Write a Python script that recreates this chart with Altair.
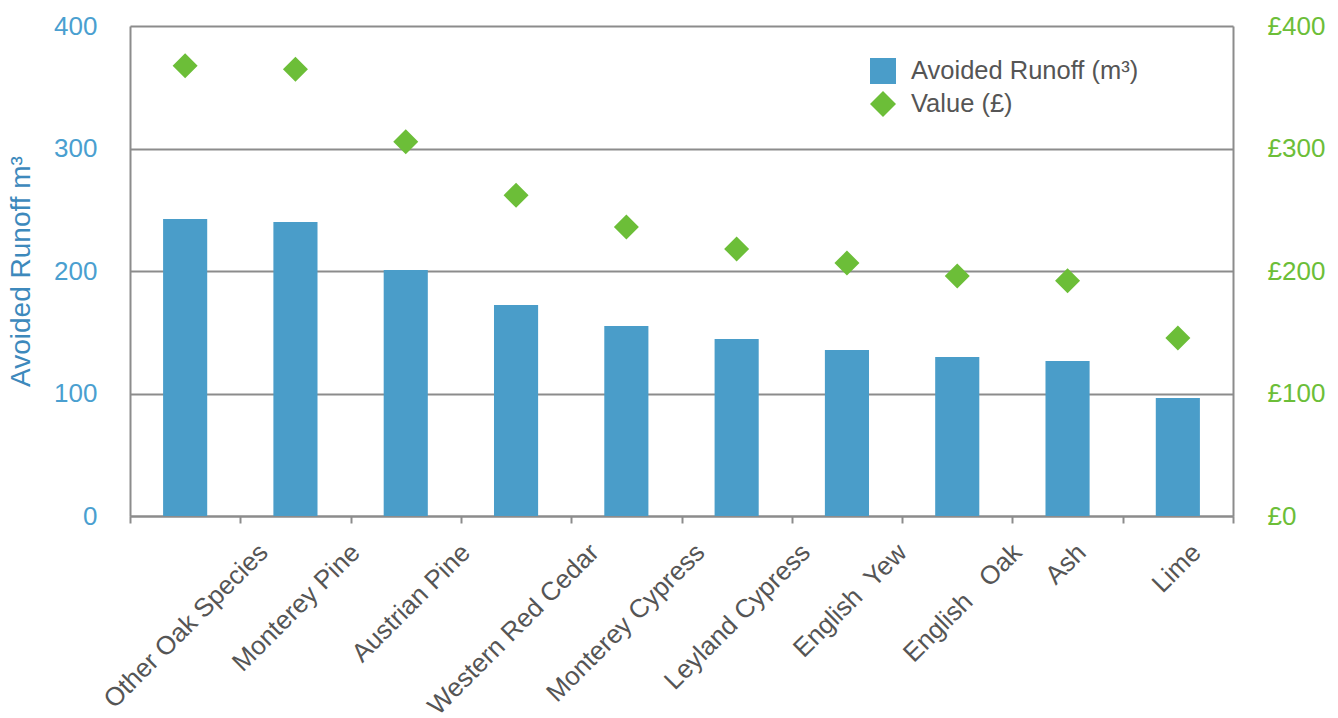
import altair as alt
import pandas as pd

NBSP = "\u00a0"

# Tree species, ordered by avoided runoff
species = [
    "Other Oak Species",
    "Monterey Pine",
    "Austrian Pine",
    "Western Red Cedar",
    "Monterey Cypress",
    "Leyland Cypress",
    f"English{NBSP}{NBSP}Yew",
    f"English{NBSP}{NBSP}{NBSP}Oak",
    "Ash",
    "Lime",
]
# Avoided runoff per species (m³)
runoff_m3 = [242.4, 240.0, 200.8, 172.2, 155.1, 144.5, 135.5, 129.8, 126.5, 96.4]
# Monetary value of the avoided runoff (£)
value_gbp = [367.6, 364.6, 305.6, 261.8, 235.9, 218.0, 206.5, 196.0, 192.0, 145.3]

series_names = ["Avoided Runoff (m³)", "Value (£)"]
axis_ticks = [0, 100, 200, 300, 400]

BLUE = "#4a9dc9"
GREEN = "#6cbe38"
GREY = "#8c8c8c"
TEXT = "#555555"
FONT = "Liberation Sans"
XLABEL_SIZE = 26
AXIS_SIZE = 26

df = pd.DataFrame({"species": species, "runoff": runoff_m3, "value": value_gbp})

# Rotated labels are anchored at their right end; shift each one by half of
# its projected width so the text is centred over its band.
label_shift = {
    "condition": [
        {"test": f"datum.value === '{s}'", "value": round(len(s) * XLABEL_SIZE * 0.5 * 0.354, 1)}
        for s in species
    ],
    "value": 0,
}

x_enc = alt.X(
    "species:N",
    sort=species,
    title=None,
    scale=alt.Scale(paddingInner=0, paddingOuter=0),
    axis=alt.Axis(
        tickBand="extent",
        ticks=True,
        tickSize=7,
        tickWidth=2,
        tickColor=GREY,
        domainColor=GREY,
        domainWidth=2,
        grid=False,
        labelAngle=-45,
        labelAlign="right",
        labelBaseline="middle",
        labelFont=FONT,
        labelFontSize=XLABEL_SIZE,
        labelColor=TEXT,
        labelPadding=25,
        labelLimit=400,
        labelOffset=label_shift,
    ),
)

legend_style = dict(
    orient="none",
    legendX=740,
    legendY=32,
    title=None,
    padding=0,
    labelFont=FONT,
    labelFontSize=25.5,
    labelColor=TEXT,
    labelOffset=15,
    labelLimit=400,
    rowPadding=6,
    symbolSize=676,
    symbolOffset=0,
    symbolStrokeWidth=0,
    symbolOpacity=1,
)

color_enc = alt.Color(
    "series:N",
    scale=alt.Scale(domain=series_names, range=[BLUE, GREEN]),
    legend=alt.Legend(**legend_style),
)

shape_enc = alt.Shape(
    "series:N",
    scale=alt.Scale(domain=series_names, range=["square", "diamond"]),
    legend=alt.Legend(**legend_style),
)

bars = (
    alt.Chart(df)
    .transform_calculate(series="'Avoided Runoff (m³)'")
    .mark_bar(width=alt.RelativeBandSize(0.4))
    .encode(
        x=x_enc,
        y=alt.Y(
            "runoff:Q",
            scale=alt.Scale(domain=[0, 400], nice=False, zero=True),
            axis=alt.Axis(
                orient="left",
                values=axis_ticks,
                grid=True,
                gridColor=GREY,
                gridWidth=2,
                domainColor=GREY,
                domainWidth=2,
                ticks=False,
                tickSize=0,
                labelFont=FONT,
                labelFontSize=AXIS_SIZE,
                labelColor="#4a9fd0",
                labelPadding=33,
                title="Avoided Runoff m³",
                titleFont=FONT,
                titleFontSize=28,
                titleFontWeight="normal",
                titleColor="#3d89bc",
                titlePadding=18,
            ),
        ),
        color=color_enc,
    )
)

points = (
    alt.Chart(df)
    .transform_calculate(series="'Value (£)'")
    .mark_point(filled=True, size=625, opacity=1)
    .encode(
        x=x_enc,
        y=alt.Y(
            "value:Q",
            scale=alt.Scale(domain=[0, 400], nice=False, zero=True),
            axis=alt.Axis(
                orient="right",
                values=axis_ticks,
                grid=False,
                domainColor=GREY,
                domainWidth=2,
                ticks=False,
                tickSize=0,
                labelFont=FONT,
                labelFontSize=AXIS_SIZE,
                labelColor=GREEN,
                labelPadding=34,
                labelExpr="'£' + datum.value",
                title=None,
            ),
        ),
        color=color_enc,
        shape=shape_enc,
    )
)

chart = (
    alt.layer(bars, points)
    .resolve_scale(y="independent")
    .properties(
        width=1103,
        height=490,
        autosize=alt.AutoSizeParams(type="none"),
        padding={"left": 130, "top": 26, "right": 105, "bottom": 202},
        background="white",
    )
    .configure_view(stroke=None)
)

chart.save("out.html", embed_options={"renderer": "svg", "actions": False})
